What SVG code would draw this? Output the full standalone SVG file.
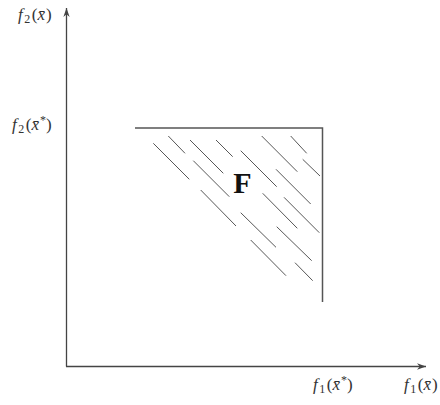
<svg xmlns="http://www.w3.org/2000/svg" width="440" height="405" viewBox="0 0 440 405">
<style>
.ax{stroke:#444;stroke-width:1.3;fill:none}
.bx{stroke:#555;stroke-width:1.5;fill:none}
.h{stroke:#444;stroke-width:0.9}
.lbl{font-family:"Liberation Serif","DejaVu Serif",serif;font-size:17px;fill:#333}
.i{font-style:italic}
.s{font-size:12px}
.F{font-family:"Liberation Serif","DejaVu Serif",serif;font-size:30px;font-weight:bold;fill:#111}
</style>
<defs>
<marker id="arr" viewBox="0 0 10 10" refX="10" refY="5" markerWidth="9" markerHeight="9" markerUnits="userSpaceOnUse" orient="auto">
<path d="M0,1.5 L10,5 L0,8.5 L3,5 Z" fill="#444"/>
</marker>
</defs>
<rect width="440" height="405" fill="#fff"/>
<g id="connectors">
<line class="ax" x1="66.5" y1="366.5" x2="66.5" y2="8" marker-end="url(#arr)"/>
<line class="ax" x1="66" y1="366.5" x2="426" y2="366.5" marker-end="url(#arr)"/>
</g>
<g id="regionF">
<polyline class="bx" points="135,128 322.5,128 322.5,302"/>
<g class="h">
<line x1="168.3" y1="136" x2="185" y2="153.3"/>
<line x1="153.3" y1="143.3" x2="189.3" y2="179.3"/>
<line x1="190" y1="140" x2="223.3" y2="173.3"/>
<line x1="216" y1="140" x2="232.7" y2="156.7"/>
<line x1="193.3" y1="160.7" x2="229.3" y2="196.7"/>
<line x1="240.7" y1="150.7" x2="276.7" y2="186.7"/>
<line x1="261.7" y1="136" x2="297.3" y2="171.7"/>
<line x1="290.7" y1="136" x2="306.7" y2="153.3"/>
<line x1="302.7" y1="159.3" x2="320" y2="176"/>
<line x1="276" y1="169.3" x2="310.7" y2="204"/>
<line x1="262.7" y1="193.3" x2="297.3" y2="228.3"/>
<line x1="284" y1="197.3" x2="319.3" y2="232.7"/>
<line x1="200.7" y1="190" x2="236" y2="226"/>
<line x1="240.7" y1="212.7" x2="276" y2="247.3"/>
<line x1="276.7" y1="226.7" x2="311.7" y2="260.7"/>
<line x1="250.7" y1="240" x2="286" y2="275.7"/>
<line x1="295" y1="262.7" x2="312.7" y2="280.7"/>
</g>
<text class="F" x="242.5" y="193" text-anchor="middle">F</text>
</g>
<g id="labels">
<text class="lbl" x="18" y="20"><tspan class="i">f</tspan><tspan class="s" dx="1.5" dy="3">2</tspan><tspan dx="1.5" dy="-3">(</tspan><tspan class="i">x̄</tspan><tspan dx="1">)</tspan></text>
<text class="lbl" x="12" y="130"><tspan class="i">f</tspan><tspan class="s" dx="1.5" dy="3">2</tspan><tspan dx="1.5" dy="-3">(</tspan><tspan class="i">x̄</tspan><tspan class="s" dx="1" dy="-6">*</tspan><tspan dy="6">)</tspan></text>
<text class="lbl" x="313" y="390"><tspan class="i">f</tspan><tspan class="s" dx="1.5" dy="3">1</tspan><tspan dx="1.5" dy="-3">(</tspan><tspan class="i">x̄</tspan><tspan class="s" dx="1" dy="-6">*</tspan><tspan dy="6">)</tspan></text>
<text class="lbl" x="404" y="390"><tspan class="i">f</tspan><tspan class="s" dx="1.5" dy="3">1</tspan><tspan dx="1.5" dy="-3">(</tspan><tspan class="i">x̄</tspan><tspan dx="1">)</tspan></text>
</g>
</svg>
